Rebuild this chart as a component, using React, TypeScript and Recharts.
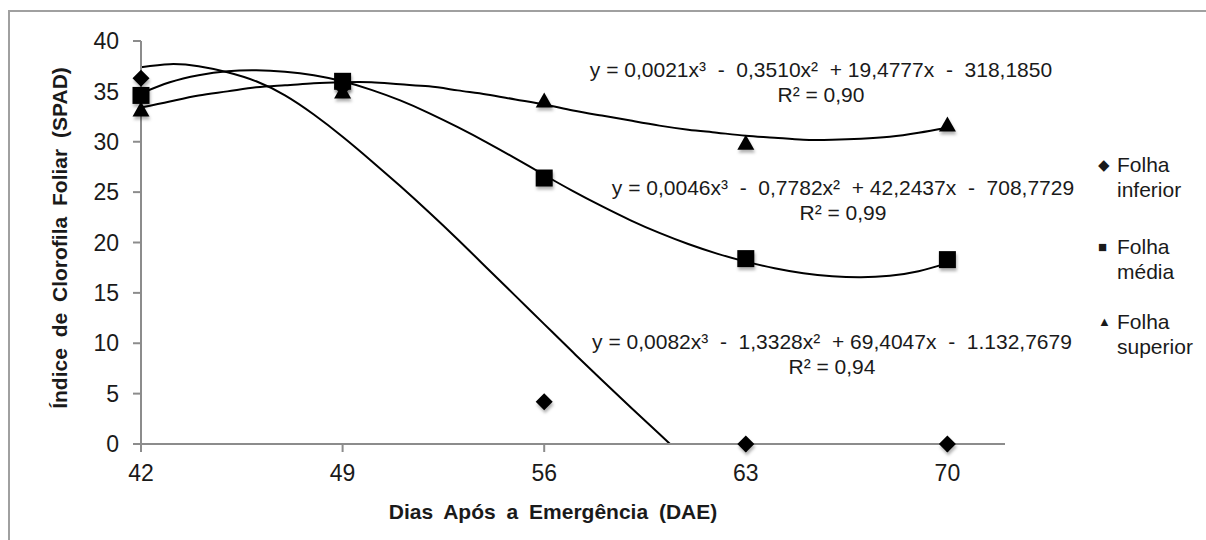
import React from 'react';
import { ComposedChart, Line, Scatter, XAxis, YAxis } from 'recharts';

const days = [42, 49, 56, 63, 70];
const inferior = [36.3, 35.4, 4.2, 0, 0];
const media = [34.6, 36.0, 26.4, 18.4, 18.3];
const superior = [33.2, 35.0, 34.1, 29.9, 31.7];

// trend lines
const trendDays = [42, 43, 44, 45, 46, 47, 48, 49, 50, 51, 52, 53, 54, 55, 56, 57, 58, 59, 60, 61, 62, 63, 64, 65, 66, 67, 68, 69, 70];
const trendSuperior = [33.4, 34.0, 34.6, 35.0, 35.4, 35.6, 35.8, 35.9, 35.9, 35.7, 35.5, 35.1, 34.7, 34.2, 33.7, 33.1, 32.6, 32.1, 31.6, 31.2, 30.9, 30.6, 30.4, 30.2, 30.2, 30.3, 30.5, 30.9, 31.4];
const trendMedia = [34.8, 35.9, 36.6, 37.0, 37.1, 36.95, 36.6, 36.0, 35.15, 34.1, 32.85, 31.45, 29.95, 28.35, 26.7, 25.1, 23.6, 22.2, 20.95, 19.85, 18.9, 18.1, 17.45, 16.95, 16.65, 16.55, 16.7, 17.15, 17.95];
const trendInfDays = [42, 43, 44, 45, 46, 47, 48, 49, 50, 51, 52, 53, 54, 55, 56, 57, 58, 59, 60, 60.37];
const trendInferior = [37.4, 37.7, 37.5, 36.9, 36.0, 34.6, 32.7, 30.5, 28.1, 25.6, 23.0, 20.3, 17.5, 14.7, 11.9, 9.1, 6.35, 3.65, 1.0, 0];

const xTicks = [42, 49, 56, 63, 70];
const yTicks = [0, 5, 10, 15, 20, 25, 30, 35, 40];

const toPts = (xs: number[], ys: number[]) => xs.map((x, i) => ({ x, y: ys[i] }));

const FONT = '"Liberation Sans", Arial, sans-serif';
const AXIS = '#8c8c8c';

const shadow = (
  <defs>
    <filter id="mkShadow" x="-50%" y="-50%" width="200%" height="200%">
      <feDropShadow dx="1" dy="3" stdDeviation="1.8" floodColor="#000" floodOpacity="0.3" />
    </filter>
  </defs>
);

const Diamond = (p: any) => (
  <g filter="url(#mkShadow)">
    {shadow}
    <polygon points={`${p.cx},${p.cy - 8.5} ${p.cx + 8.5},${p.cy} ${p.cx},${p.cy + 8.5} ${p.cx - 8.5},${p.cy}`} fill="#000" />
  </g>
);
const Square = (p: any) => (
  <g filter="url(#mkShadow)">
    {shadow}
    <rect x={p.cx - 8.5} y={p.cy - 8.5} width={17} height={17} fill="#000" />
  </g>
);
const Triangle = (p: any) => (
  <g filter="url(#mkShadow)">
    {shadow}
    <polygon points={`${p.cx},${p.cy - 8} ${p.cx + 8.5},${p.cy + 7} ${p.cx - 8.5},${p.cy + 7}`} fill="#000" />
  </g>
);

const eqStyle: React.CSSProperties = {
  position: 'absolute', width: 560, textAlign: 'center', fontFamily: FONT, fontSize: 21,
  color: '#1a1a1a', lineHeight: '25px', whiteSpace: 'pre',
};

const legendItems = [
  { top: 152, lines: ['Folha', 'inferior'], mark: '◆', size: 15 },
  { top: 234, lines: ['Folha', 'média'], mark: '■', size: 15 },
  { top: 309, lines: ['Folha', 'superior'], mark: '▲', size: 13 },
];

export default function App() {
  return (
    <div style={{ position: 'fixed', left: 0, top: 0, width: 1206, height: 540, overflow: 'hidden', background: '#fff', fontFamily: FONT }}>
      <div style={{ position: 'absolute', left: 8, top: 10, width: 1210, height: 540, borderLeft: '2px solid #a0a0a0', borderTop: '2px solid #a0a0a0' }} />
      <div style={{ position: 'absolute', left: 0, top: 0 }}>
        <ComposedChart width={1206} height={540} margin={{ top: 41, right: 201, bottom: 0, left: 0 }}>
          <XAxis
            type="number" dataKey="x" domain={[42, 72]} ticks={xTicks}
            height={96} tickSize={8} tickMargin={13}
            axisLine={{ stroke: AXIS, strokeWidth: 2 }} tickLine={{ stroke: AXIS, strokeWidth: 2 }}
            tick={{ fill: '#1a1a1a', fontSize: 23, fontFamily: FONT }}
          />
          <YAxis
            type="number" dataKey="y" domain={[0, 40]} ticks={yTicks}
            width={141} tickSize={8} tickMargin={14}
            axisLine={{ stroke: AXIS, strokeWidth: 2 }} tickLine={{ stroke: AXIS, strokeWidth: 2 }}
            tick={{ fill: '#1a1a1a', fontSize: 23, fontFamily: FONT }}
          />
          <Line data={toPts(trendDays, trendSuperior)} dataKey="y" type="natural" stroke="#000" strokeWidth={2} dot={false} activeDot={false} isAnimationActive={false} />
          <Line data={toPts(trendDays, trendMedia)} dataKey="y" type="natural" stroke="#000" strokeWidth={2} dot={false} activeDot={false} isAnimationActive={false} />
          <Line data={toPts(trendInfDays, trendInferior)} dataKey="y" type="natural" stroke="#000" strokeWidth={2} dot={false} activeDot={false} isAnimationActive={false} />
          <Scatter data={toPts(days, superior)} dataKey="y" shape={Triangle} isAnimationActive={false} />
          <Scatter data={toPts(days, inferior)} dataKey="y" shape={Diamond} isAnimationActive={false} />
          <Scatter data={toPts(days, media)} dataKey="y" shape={Square} isAnimationActive={false} />
        </ComposedChart>
      </div>

      <div style={{ ...eqStyle, left: 541, top: 57 }}>
        {'y = 0,0021x³  -  0,3510x²  + 19,4777x  -  318,1850\nR² = 0,90'}
      </div>
      <div style={{ ...eqStyle, left: 563, top: 175 }}>
        {'y = 0,0046x³  -  0,7782x²  + 42,2437x  -  708,7729\nR² = 0,99'}
      </div>
      <div style={{ ...eqStyle, left: 552, top: 329 }}>
        {'y = 0,0082x³  -  1,3328x²  + 69,4047x  -  1.132,7679\nR² = 0,94'}
      </div>

      {legendItems.map((it) => (
        <div key={it.mark} style={{ position: 'absolute', left: 1098, top: it.top, fontSize: 21, lineHeight: '25px', color: '#1a1a1a' }}>
          <span style={{ display: 'inline-block', width: 19, fontSize: it.size, verticalAlign: 'top', lineHeight: '25px' }}>{it.mark}</span>
          <span style={{ display: 'inline-block' }}>{it.lines[0]}<br />{it.lines[1]}</span>
        </div>
      ))}

      <div style={{ position: 'absolute', left: 60, top: 238, transform: 'translate(-50%, -50%) rotate(-90deg)', whiteSpace: 'nowrap', fontWeight: 700, fontSize: 21, color: '#1a1a1a', wordSpacing: 5 }}>
        Índice de Clorofila Foliar (SPAD)
      </div>
      <div style={{ position: 'absolute', left: 553, top: 512, transform: 'translate(-50%, -50%)', whiteSpace: 'nowrap', fontWeight: 700, fontSize: 21, color: '#1a1a1a', wordSpacing: 5 }}>
        Dias Após a Emergência (DAE)
      </div>
    </div>
  );
}
